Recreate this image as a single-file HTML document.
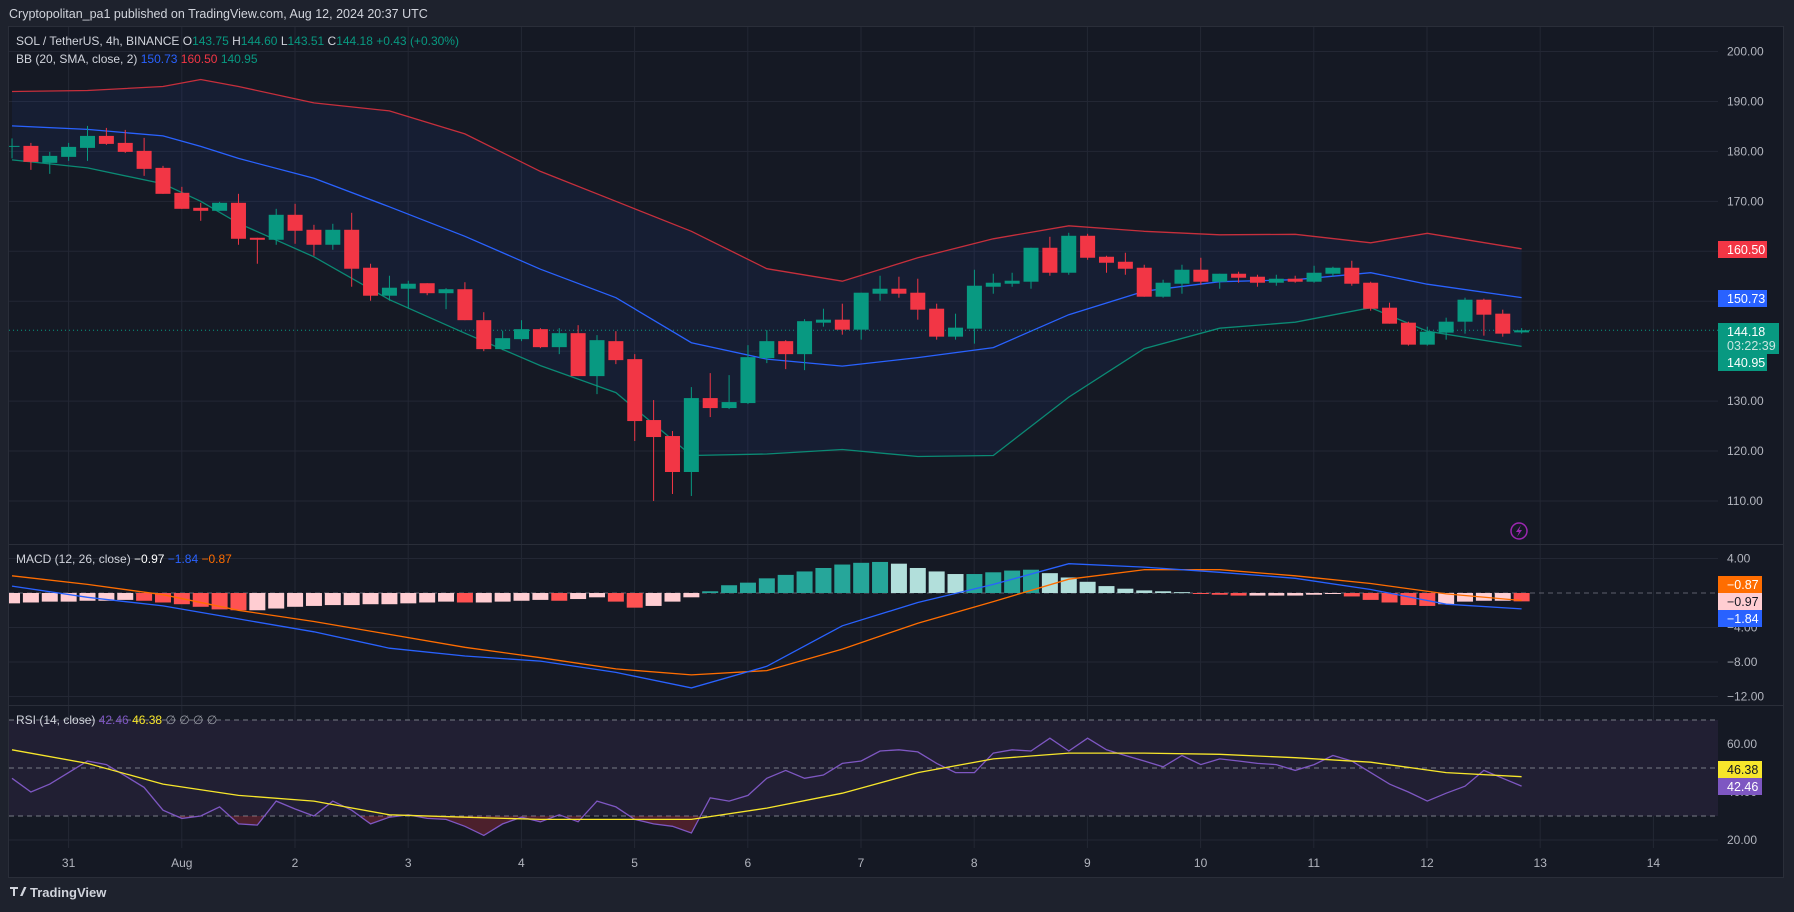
<!DOCTYPE html>
<html><head><meta charset="utf-8"><style>
html,body{margin:0;padding:0;background:#1e222d;}
svg{display:block;font-family:"Liberation Sans",sans-serif;}
</style></head><body>
<svg id="c" width="1794" height="912" viewBox="0 0 1794 912" xmlns="http://www.w3.org/2000/svg">
<rect x="0" y="0" width="1794" height="912" fill="#1e222d"/>
<text x="9" y="18" fill="#d1d4dc" font-size="12.5">Cryptopolitan_pa1 published on TradingView.com, Aug 12, 2024 20:37 UTC</text>
<rect x="8.5" y="26.5" width="1775" height="851" fill="#151924" stroke="#2a2e39"/>
<defs>
<clipPath id="cm"><rect x="9" y="27" width="1709" height="517"/></clipPath>
<clipPath id="cmacd"><rect x="9" y="545" width="1709" height="160"/></clipPath>
<clipPath id="crsi"><rect x="9" y="706" width="1709" height="142"/></clipPath>
<clipPath id="crsilow"><rect x="9" y="816" width="1709" height="40"/></clipPath>
</defs>
<g id="grid"></g>
<g id="main" clip-path="url(#cm)"></g>
<g id="macd" clip-path="url(#cmacd)"></g>
<g id="rsi" clip-path="url(#crsi)"></g>
<g id="axes"></g>
<line x1="9" y1="544.5" x2="1783" y2="544.5" stroke="#2a2e39"/>
<line x1="9" y1="705.5" x2="1783" y2="705.5" stroke="#2a2e39"/>
<text x="16" y="45" font-size="12" fill="#d1d4dc">SOL / TetherUS, 4h, BINANCE <tspan>O</tspan><tspan fill="#089981">143.75</tspan> H<tspan fill="#089981">144.60</tspan> L<tspan fill="#089981">143.51</tspan> C<tspan fill="#089981">144.18 +0.43 (+0.30%)</tspan></text>
<text x="16" y="63" font-size="12" fill="#d1d4dc">BB (20, SMA, close, 2) <tspan fill="#2962ff">150.73</tspan> <tspan fill="#f23645">160.50</tspan> <tspan fill="#089981">140.95</tspan></text>
<text x="16" y="563" font-size="12" fill="#d1d4dc">MACD (12, 26, close) <tspan fill="#ffffff">−0.97</tspan> <tspan fill="#2962ff">−1.84</tspan> <tspan fill="#ff6d00">−0.87</tspan></text>
<text x="16" y="724" font-size="12" fill="#d1d4dc">RSI (14, close) <tspan fill="#7e57c2">42.46</tspan> <tspan fill="#f7e62b">46.38</tspan> <tspan fill="#9598a1">∅ ∅ ∅ ∅</tspan></text>
<g><circle cx="1519" cy="531" r="8" fill="none" stroke="#9c27b0" stroke-width="1.5"/><path d="M1521 525 L1516 532 L1519 532 L1517 537 L1522 530 L1519 530 Z" fill="#9c27b0"/></g>
<g><path d="M10 887 h8 v2 h-3 v7 h-2 v-7 h-3z M20 896 l4 -9 h2.5 l-4 9z" fill="#d1d4dc"/><text x="30" y="897" font-size="13" font-weight="bold" fill="#d1d4dc">TradingView</text></g>
</svg>
<script>
const opens=[181.0,181.1,177.7,178.9,180.7,183.1,181.7,180.1,176.7,171.7,168.7,168.1,169.7,162.7,162.3,167.3,164.3,161.3,164.3,156.7,151.1,152.5,153.6,151.6,152.4,146.2,140.4,142.4,144.4,140.8,143.6,135.0,142.0,138.4,126.2,123.0,115.8,130.6,128.6,129.6,138.6,142.0,139.4,145.7,146.3,144.3,151.5,152.5,151.7,148.5,142.9,144.5,152.9,153.5,153.9,160.7,155.7,163.1,158.9,157.9,156.7,150.9,153.5,156.3,153.9,155.5,154.9,153.7,154.5,153.9,155.5,156.7,153.7,148.7,145.7,141.3,143.7,145.9,150.3,147.5,143.75];
const highs=[182.6,181.7,179.9,181.7,185.1,184.7,184.3,182.7,177.1,172.9,169.7,169.9,171.5,162.7,168.5,169.5,165.3,165.5,167.7,157.5,155.1,154.1,153.6,152.6,153.8,147.8,144.1,146.2,144.6,144.6,145.2,143.2,144.0,139.4,130.2,124.0,132.8,135.6,135.2,141.2,144.2,142.2,146.4,148.5,149.5,151.7,155.1,154.9,154.5,149.5,147.5,156.3,155.5,155.7,160.7,162.9,163.7,163.5,159.1,159.7,157.3,154.3,157.3,158.7,155.5,155.9,155.3,155.3,155.1,157.1,156.9,158.1,153.9,149.7,145.9,144.9,146.7,150.7,150.5,148.3,144.6];
const lows=[178.6,176.3,175.5,178.1,178.1,181.3,179.7,175.1,171.5,168.5,166.1,168.1,161.3,157.5,161.3,161.5,159.1,160.3,152.9,150.1,150.1,148.5,151.2,148.4,146.2,140.0,140.2,142.0,140.6,139.4,135.0,131.4,137.4,122.0,110.0,111.4,111.0,126.8,128.4,129.4,137.6,136.4,136.2,144.9,143.3,142.3,150.1,150.7,146.3,142.3,142.3,141.5,151.5,152.9,152.5,155.1,155.3,158.3,155.7,155.3,150.9,150.7,151.5,153.3,152.5,153.7,152.9,153.1,153.7,153.7,154.9,153.1,148.1,145.5,141.1,141.1,142.3,143.5,143.1,142.9,143.51];
const closes=[181.1,177.9,179.1,180.9,183.1,181.5,179.9,176.5,171.5,168.5,168.1,169.7,162.5,162.3,167.3,164.1,161.3,164.3,156.5,151.1,152.7,153.5,151.6,152.4,146.2,140.4,142.6,144.4,140.8,143.6,135.0,142.2,138.2,126.0,122.8,115.8,130.6,128.6,129.8,138.8,142.0,139.4,146.0,146.3,144.3,151.7,152.5,151.5,148.3,142.9,144.7,153.1,153.7,154.1,160.7,155.7,163.1,158.7,157.7,156.5,150.9,153.7,156.3,153.9,155.5,154.7,153.7,154.5,153.9,155.7,156.7,153.5,148.5,145.5,141.3,143.9,145.9,150.3,147.3,143.5,144.18];
const bbIdx=[0,4,8,10,12,16,20,24,28,32,36,40,44,48,52,56,60,64,68,72,75,80];
const bbUpper=[192.0,192.2,193.0,194.4,193.0,189.7,188.1,183.5,176.0,170.0,164.0,156.5,154.0,158.7,162.5,165.1,164.0,163.3,163.4,161.7,163.6,160.50];
const bbMid=[185.1,184.4,183.1,181.0,178.6,174.6,168.9,163.0,156.4,150.7,141.7,138.4,137.0,138.7,140.7,147.3,152.0,153.9,154.3,155.7,153.4,150.73];
const bbLower=[178.3,176.7,173.5,170.0,165.6,158.9,150.3,143.6,137.1,131.7,119.1,119.4,120.3,118.9,119.1,130.8,140.5,144.6,145.8,148.7,144.0,140.95];
const macdIdx=[0,4,8,12,16,20,24,28,32,36,40,44,48,52,56,60,64,68,72,76,80];
const macdHist=[-1.2,-1.1,-1.0,-1.0,-0.9,-0.9,-0.8,-0.9,-1.1,-1.3,-1.6,-1.9,-2.0,-2.0,-1.8,-1.6,-1.5,-1.4,-1.4,-1.3,-1.3,-1.2,-1.1,-1.0,-1.1,-1.1,-1.0,-0.9,-0.8,-0.9,-0.7,-0.5,-1.0,-1.7,-1.5,-1.0,-0.5,0.2,0.9,1.2,1.7,2.1,2.5,2.9,3.3,3.5,3.6,3.4,2.9,2.5,2.2,2.2,2.4,2.6,2.7,2.3,1.8,1.3,0.8,0.5,0.3,0.2,0.1,-0.1,-0.2,-0.3,-0.3,-0.3,-0.3,-0.2,-0.1,-0.4,-0.8,-1.1,-1.4,-1.5,-1.3,-1.0,-0.9,-0.9,-0.97];
const macdLine=[0.8,-0.5,-1.5,-3.0,-4.5,-6.4,-7.3,-7.9,-9.2,-11.0,-8.5,-3.8,-1.1,1.0,3.4,3.0,2.4,1.7,0.4,-1.3,-1.84];
const signalLine=[2.0,1.0,-0.2,-2.0,-3.3,-4.8,-6.3,-7.5,-8.8,-9.5,-9.0,-6.5,-3.5,-1.0,1.6,2.7,2.7,2.0,1.1,-0.1,-0.87];
const rsiLine=[45.7,40.0,43.3,48.1,52.9,51.4,46.7,41.9,32.4,29.0,30.0,33.8,26.7,26.2,36.2,32.9,30.0,36.2,32.4,26.7,29.5,30.5,29.0,28.6,25.7,21.9,26.7,29.5,27.6,30.5,27.6,36.2,33.8,28.6,26.7,25.7,22.9,37.6,36.2,38.6,45.7,49.0,45.7,47.1,51.9,52.9,57.1,57.6,56.7,51.9,48.1,48.1,56.2,57.6,57.1,62.4,57.1,62.4,57.6,55.2,52.9,50.5,55.2,51.4,53.8,52.9,51.9,51.4,49.0,51.4,55.2,52.9,48.1,43.3,40.0,36.2,39.5,42.4,49.0,45.7,42.46];
const rsiMa=[57.6,51.9,43.3,38.6,36.2,30.5,29.5,28.6,28.6,28.6,33.3,39.5,48.1,53.8,56.2,56.2,55.7,54.3,52.4,48.1,46.38];
const priceTicks=[200,190,180,170,160,150,140,130,120,110];
const macdTicks=[4,-4,-8,-12];
const rsiTicks=[60,40,20];
const rsiDashed=[70,50,30];
const dayLabels=["31","Aug","2","3","4","5","6","7","8","9","10","11","12","13","14"];

const NS="http://www.w3.org/2000/svg";
const xC=j=>12.03+18.87*j;
const xDay=k=>68.6+113.2*k;
const yP=p=>51.5+(200-p)*4.994;
const yM=v=>593-v*8.625;
const yR=v=>768-(v-50)*2.4;
function mk(tag,attrs,parent){const e=document.createElementNS(NS,tag);for(const k in attrs)e.setAttribute(k,attrs[k]);parent.appendChild(e);return e;}
const G=document.getElementById('grid'),M=document.getElementById('main'),MA=document.getElementById('macd'),R=document.getElementById('rsi'),A=document.getElementById('axes');
const GC="#232734";
dayLabels.forEach((d,k)=>{
  const x=xDay(k);
  const l=mk('line',{x1:x,y1:27,x2:x,y2:848,stroke:GC},G);
  
  
  const t=mk('text',{x:x,y:867,'text-anchor':'middle','font-size':12,fill:'#b2b5be'},A);
  t.textContent=d;
  
  
});
priceTicks.forEach(p=>{
  const l=mk('line',{x1:9,y1:yP(p),x2:1718,y2:yP(p),stroke:GC},G);
  
  
  const t=mk('text',{x:1727,y:yP(p)+4,'font-size':12,fill:'#b2b5be'},A);
  t.textContent=p.toFixed(2);
  
  
});
macdTicks.forEach(v=>{
  const l=mk('line',{x1:9,y1:yM(v),x2:1718,y2:yM(v),stroke:GC},G);
  
  
  const t=mk('text',{x:1727,y:yM(v)+4,'font-size':12,fill:'#b2b5be'},A);
  t.textContent=(v<0?'−':'')+Math.abs(v).toFixed(2);
  
  
});
{const l=mk('line',{x1:9,y1:yM(0),x2:1718,y2:yM(0),stroke:'#5d606b','stroke-dasharray':'5,4'},MA);

}
{const b=mk('rect',{x:9,y:yR(70),width:1709,height:yR(30)-yR(70),fill:'#211f33'},R);

}
rsiTicks.forEach(v=>{
  const l=mk('line',{x1:9,y1:yR(v),x2:1718,y2:yR(v),stroke:GC},G);
  
  
  const t=mk('text',{x:1727,y:yR(v)+4,'font-size':12,fill:'#b2b5be'},A);
  t.textContent=v.toFixed(2);
  
  
});
rsiDashed.forEach(v=>{
  const l=mk('line',{x1:9,y1:yR(v),x2:1718,y2:yR(v),stroke:'#787b86','stroke-dasharray':'5,4'},R);
  
  
});
const pts=(idx,arr,yf)=>idx.map((j,i)=>xC(j).toFixed(1)+','+yf(arr[i]).toFixed(1));
{const up=pts(bbIdx,bbUpper,yP),lo=pts(bbIdx,bbLower,yP).reverse();
const f=mk('polygon',{points:up.concat(lo).join(' '),fill:'rgba(41,98,255,0.07)'},M);

}
[[bbUpper,'#c62f3c','bb-upper'],[bbMid,'#2962ff','bb-basis'],[bbLower,'#0b8a74','bb-lower']].forEach(([arr,c,n])=>{
  const p=mk('polyline',{points:pts(bbIdx,arr,yP).join(' '),fill:'none',stroke:c,'stroke-width':1.3},M);
  
  
});
{const l=mk('line',{x1:9,y1:yP(closes[closes.length-1]),x2:1718,y2:yP(closes[closes.length-1]),stroke:'#089981','stroke-dasharray':'1,3'},M);

}
opens.forEach((o,j)=>{
  const c=closes[j],up=c>=o,col=up?'#089981':'#f23645',x=xC(j);
  const g=mk('g',{},M);
  
  
  mk('line',{x1:x,y1:yP(highs[j]),x2:x,y2:yP(lows[j]),stroke:col,'stroke-width':1},g);
  const t=yP(Math.max(o,c)),b=yP(Math.min(o,c));
  mk('rect',{x:x-7.5,y:t,width:15,height:Math.max(1,b-t),fill:col},g);
});
macdHist.forEach((v,j)=>{
  const prev=j>0?macdHist[j-1]:v;
  const col=v>=0?(v>=prev?'#26a69a':'#b2dfdb'):(v<prev?'#ff5252':'#ffcdd2');
  const y0=yM(0),y1=yM(v);
  const r=mk('rect',{x:xC(j)-8,y:Math.min(y0,y1),width:16,height:Math.max(1,Math.abs(y1-y0)),fill:col},MA);
  
  
});
[[signalLine,'#ff6d00','macd-signal-line'],[macdLine,'#2962ff','macd-line']].forEach(([arr,c,n])=>{
  const p=mk('polyline',{points:pts(macdIdx,arr,yM).join(' '),fill:'none',stroke:c,'stroke-width':1.3},MA);
  
  
});
const rIdx=rsiLine.map((v,j)=>j);
{const lp=pts(rIdx,rsiLine,yR);
const f=mk('polygon',{points:lp.join(' ')+' '+xC(rIdx.length-1)+','+yR(30)+' '+xC(0)+','+yR(30),fill:'rgba(242,54,69,0.25)','clip-path':'url(#crsilow)'},R);


const p=mk('polyline',{points:lp.join(' '),fill:'none',stroke:'#7e57c2','stroke-width':1.3},R);


const m=mk('polyline',{points:pts(macdIdx,rsiMa,yR).join(' '),fill:'none',stroke:'#f7e62b','stroke-width':1.3},R);

}
function tag(y,h,w,bg,fg,txt,name,sub){
  const g=mk('g',{},A);
  
  
  mk('rect',{x:1718,y:y,width:w,height:h,fill:bg},g);
  const t=mk('text',{x:1727,y:y+13,'font-size':12.5,fill:fg},g);t.textContent=txt;
  if(sub){const s=mk('text',{x:1727,y:y+27,'font-size':12.5,fill:'#c8e6e0'},g);s.textContent=sub;}
}
tag(241,17,49,'#f23645','#fff',bbUpper[bbUpper.length-1].toFixed(2),'bb-upper-price-tag');
tag(290,17,49,'#2962ff','#fff',bbMid[bbMid.length-1].toFixed(2),'bb-basis-price-tag');
tag(323,31,61,'#089981','#fff',closes[closes.length-1].toFixed(2),'last-price-tag','03:22:39');
tag(354,17,49,'#089981','#fff',bbLower[bbLower.length-1].toFixed(2),'bb-lower-price-tag');
tag(576,17,44,'#ff6d00','#fff','−0.87','macd-signal-tag');
tag(593,17,44,'#ffcdd2','#131722','−0.97','macd-histogram-tag');
tag(610,17,44,'#2962ff','#fff','−1.84','macd-line-tag');
tag(761,17,44,'#f7e62b','#131722','46.38','rsi-ma-tag');
tag(778,17,44,'#7e57c2','#fff','42.46','rsi-value-tag');
</script>
</body></html>
